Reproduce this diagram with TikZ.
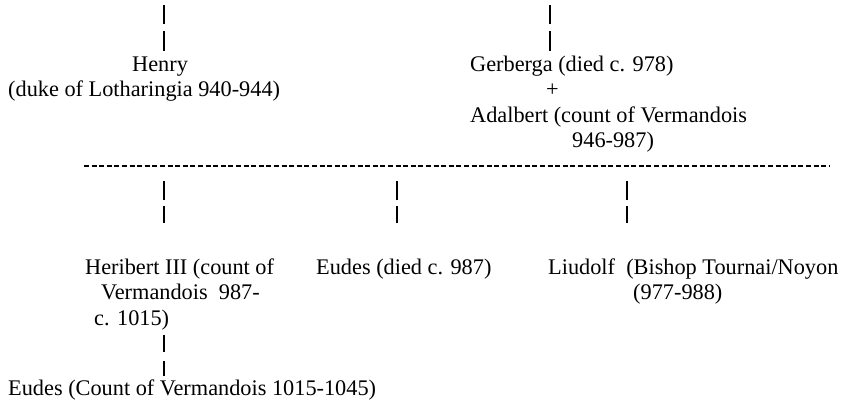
\documentclass[tikz,border=0pt]{standalone}
\usepackage{fontspec}
\setmainfont{Liberation Serif}
\begin{document}
\begin{tikzpicture}[x=1pt,y=-1pt,
  txt/.style={inner sep=0pt, anchor=base west, align=left, font=\fontsize{22.3}{25.5}\selectfont},
  bar/.style={line width=2pt},
  dashline/.style={line width=1.8pt, dash pattern=on 5pt off 2.6pt}]
\useasboundingbox (0,0) rectangle (846,404);
% top people (anchor = baseline of last line)
\node[txt] (henry) at (8,96.5) {\hspace*{124pt}Henry\\(duke of Lotharingia 940-944)};
\node[txt] (gerberga) at (470,147.5) {Gerberga (died c. 978)\\\hspace*{76pt}+\\Adalbert (count of Vermandois\\\hspace*{102pt}946-987)};
% bars above top people
\coordinate (ha1) at (164,5);  \coordinate (ha2) at (164,24);
\coordinate (ha3) at (164,31); \coordinate (ha4) at (164,51);
\coordinate (ga1) at (550,5);  \coordinate (ga2) at (550,24);
\coordinate (ga3) at (550,31); \coordinate (ga4) at (550,51);
\draw[bar] (ha1) -- (ha2); \draw[bar] (ha3) -- (ha4);
\draw[bar] (ga1) -- (ga2); \draw[bar] (ga3) -- (ga4);
% dashed line
\coordinate (dl) at (84,166); \coordinate (dr) at (830,166);
\draw[dashline] (dl) -- (dr);
% children
\node[txt] (heribert) at (85,325) {Heribert III (count of\\\hspace*{16pt}Vermandois\ \ 987-\\\hspace*{9pt}c. 1015)};
\node[txt] (eudes1) at (316,274) {Eudes (died c. 987)};
\node[txt] (liudolf) at (548,299.5) {Liudolf\ \ (Bishop Tournai/Noyon\\\hspace*{85pt}(977-988)};
\node[txt] (eudes2) at (8,395) {Eudes (Count of Vermandois 1015-1045)};
% bars below dashed line
\foreach \x/\n in {164/a,397/b,627/c}{
  \coordinate (\n1) at (\x,181); \coordinate (\n2) at (\x,200);
  \coordinate (\n3) at (\x,206); \coordinate (\n4) at (\x,223);
  \draw[bar] (\n1) -- (\n2); \draw[bar] (\n3) -- (\n4);
}
% bars between Heribert and Eudes
\coordinate (e1) at (164,335); \coordinate (e2) at (164,352);
\coordinate (e3) at (164,361); \coordinate (e4) at (164,376);
\draw[bar] (e1) -- (e2); \draw[bar] (e3) -- (e4);
\end{tikzpicture}
\end{document}
